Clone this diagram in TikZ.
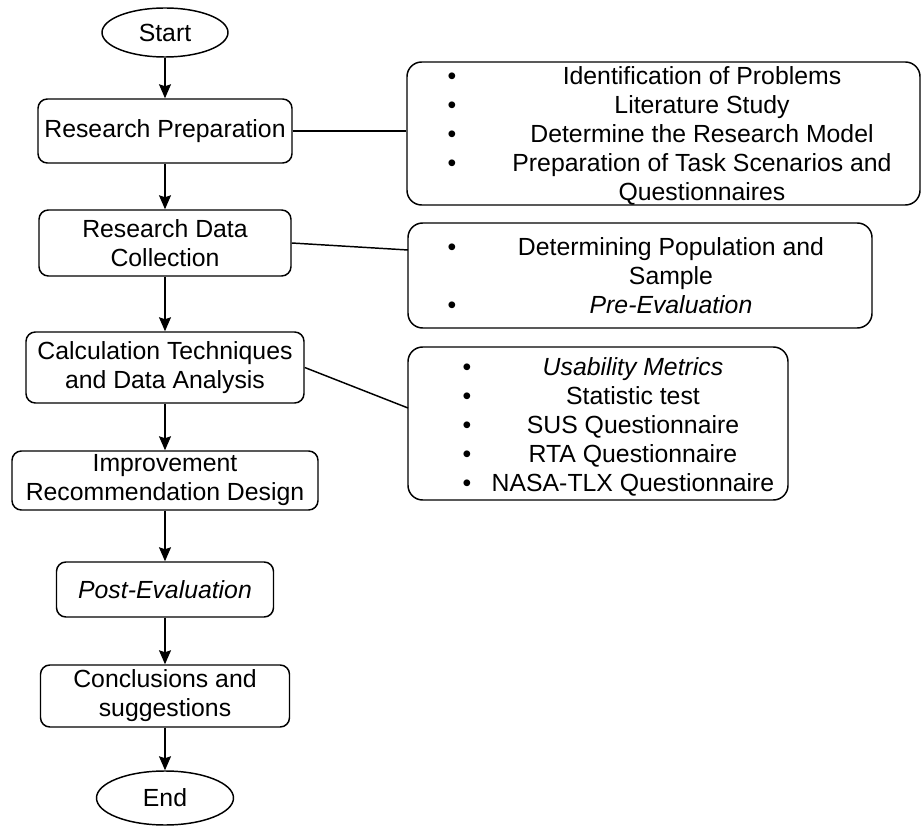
\documentclass[tikz,border=0pt]{standalone}
\usepackage{fontspec}
\setmainfont{Liberation Sans}
\usetikzlibrary{arrows.meta,shapes.geometric}
\begin{document}
\begin{tikzpicture}[x=0.75pt,y=-0.75pt,
  every node/.style={font=\fontsize{18.6pt}{21.75pt}\selectfont},
  lbox/.style={draw,line width=1.1pt,rounded corners=7pt,align=center,inner sep=0pt},
  rbox/.style={draw,line width=1.1pt,rounded corners=11pt,inner sep=0pt},
  term/.style={draw,line width=1.1pt,ellipse,inner sep=0pt},
  txt/.style={align=center,inner sep=0pt},
  arr/.style={line width=1.1pt,-{Stealth[length=10.5pt,width=9pt,inset=1.5pt]}},
  link/.style={line width=1.1pt}]
\useasboundingbox (0,0) rectangle (922,827);

% left column
\node[term,minimum width=94.5pt,minimum height=36.75pt] (start) at (165,32.5) {Start};
\node[lbox,minimum width=190.5pt,minimum height=48pt] (prep) at (165,131) {Research Preparation};
\node[lbox,minimum width=189pt,minimum height=49.5pt] (rdc) at (165,243) {Research Data\\Collection};
\node[lbox,minimum width=208.5pt,minimum height=53.25pt] (ctda) at (165,367.5) {Calculation Techniques\\and Data Analysis};
\node[lbox,minimum width=229.5pt,minimum height=44.25pt] (imp) at (165,480.5) {Improvement\\Recommendation Design};
\node[lbox,minimum width=162.75pt,minimum height=41.25pt] (post) at (165,589.5) {\textit{Post-Evaluation}};
\node[lbox,minimum width=186.75pt,minimum height=46.5pt] (concl) at (165,696) {Conclusions and\\suggestions};
\node[term,minimum width=102.75pt,minimum height=40.5pt] (end) at (165,798) {End};

\draw[arr] (start) -- (prep);
\draw[arr] (prep) -- (rdc);
\draw[arr] (rdc) -- (ctda);
\draw[arr] (ctda) -- (imp);
\draw[arr] (imp) -- (post);
\draw[arr] (post) -- (concl);
\draw[arr] (concl) -- (end);

% right boxes
\node[rbox,minimum width=384.75pt,minimum height=107.25pt] (r1) at (663.5,133.5) {};
\node[txt] (r1t) at (702,137) {\strut Identification of Problems\\\strut Literature Study\\\strut Determine the Research Model\\\strut Preparation of Task Scenarios and\\\strut Questionnaires};
\node[txt] (r1b) at (452,137) {\strut•\\\strut•\\\strut•\\\strut•\\\strut\phantom{•}};

\node[rbox,minimum width=348pt,minimum height=78.75pt] (r2) at (640,275.5) {};
\node[txt] (r2t) at (671,279) {\strut Determining Population and\\\strut Sample\\\strut\textit{Pre-Evaluation}};
\node[txt] (r2b) at (452,279) {\strut•\\\strut\phantom{•}\\\strut•};

\node[rbox,minimum width=285pt,minimum height=114.75pt] (r3) at (598,423.5) {};
\node[txt] (r3t) at (633,428) {\strut\textit{Usability Metrics}\\\strut Statistic test\\\strut SUS Questionnaire\\\strut RTA Questionnaire\\\strut NASA-TLX Questionnaire};
\node[txt] (r3b) at (467,428) {\strut•\\\strut•\\\strut•\\\strut•\\\strut•};

% links
\coordinate (r2in) at (408,250);
\coordinate (r3in) at (408,408);
\draw[link] (prep.east) -- (prep.east -| r1.west);
\draw[link] (rdc.east) -- (r2in);
\draw[link] (ctda.east) -- (r3in);
\end{tikzpicture}
\end{document}
